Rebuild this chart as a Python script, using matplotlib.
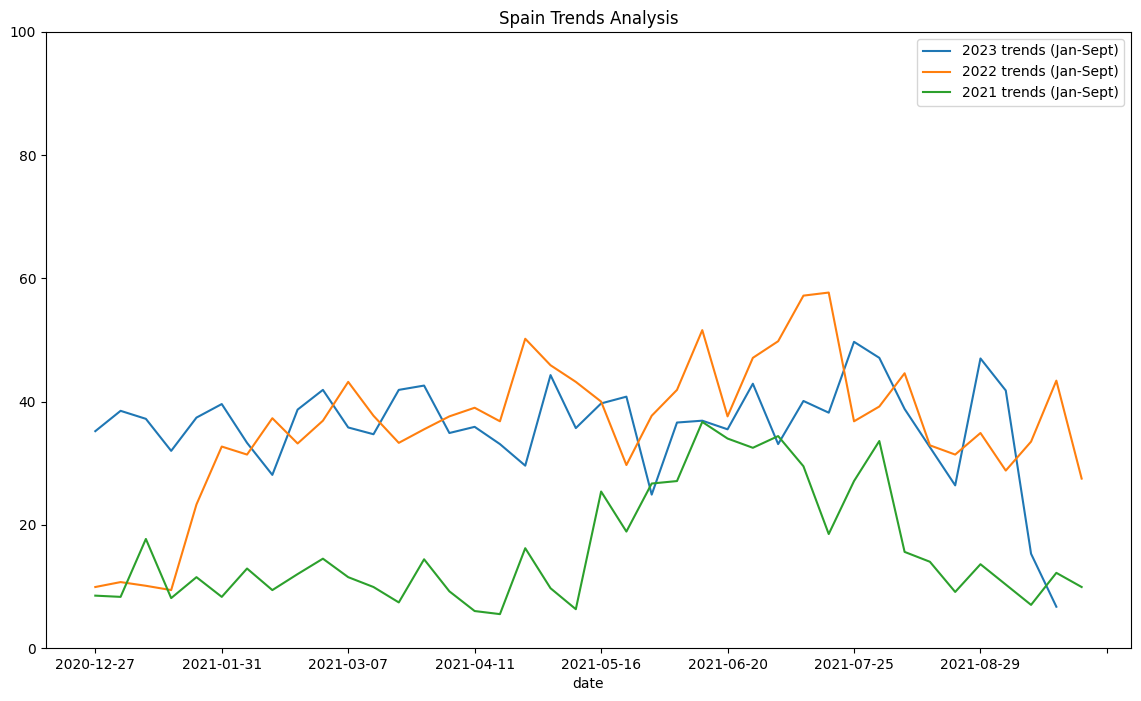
import matplotlib
matplotlib.use('Agg')
import matplotlib.pyplot as plt
import pandas as pd

# weekly dates, Jan-Sept
dates = pd.date_range('2020-12-27', periods=40, freq='7D').strftime('%Y-%m-%d').tolist()

trends_2023 = [35.2, 38.5, 37.2, 32.0, 37.4, 39.6, 33.3, 28.1, 38.7, 41.9,
               35.8, 34.7, 41.9, 42.6, 34.9, 35.9, 33.1, 29.6, 44.3, 35.7,
               39.7, 40.8, 24.9, 36.6, 36.9, 35.5, 42.9, 33.1, 40.1, 38.2,
               49.7, 47.1, 38.8, 32.6, 26.4, 47.0, 41.8, 15.3, 6.7, None]
trends_2022 = [9.9, 10.7, 10.1, 9.4, 23.3, 32.7, 31.4, 37.3, 33.2, 36.9,
               43.2, 37.7, 33.3, 35.5, 37.6, 39.0, 36.8, 50.2, 45.9, 43.2,
               40.0, 29.7, 37.7, 41.9, 51.6, 37.6, 47.1, 49.8, 57.2, 57.7,
               36.8, 39.2, 44.6, 32.9, 31.4, 34.9, 28.8, 33.5, 43.4, 27.5]
trends_2021 = [8.5, 8.3, 17.7, 8.1, 11.5, 8.3, 12.9, 9.4, 12.0, 14.5,
               11.5, 9.9, 7.4, 14.4, 9.2, 6.0, 5.5, 16.2, 9.7, 6.3,
               25.4, 18.9, 26.7, 27.1, 36.7, 34.0, 32.5, 34.4, 29.5, 18.5,
               27.1, 33.6, 15.6, 14.0, 9.1, 13.6, 10.3, 7.0, 12.2, 9.9]

df = pd.DataFrame({'2023 trends (Jan-Sept)': trends_2023,
                   '2022 trends (Jan-Sept)': trends_2022,
                   '2021 trends (Jan-Sept)': trends_2021}, index=dates, dtype=float)
df.index.name = 'date'

fig = plt.figure(figsize=(11.41, 7.01), dpi=100)
ax = fig.add_axes([0.0403, 0.0756, 0.9509, 0.8788])
x = range(len(dates))
for col in df.columns:
    ax.plot(x, df[col].values, label=col)

ticks = list(range(0, len(dates) + 1, 5))
ax.set_xticks(ticks)
ax.set_xticklabels([dates[t] if t < len(dates) else '' for t in ticks])
ax.set_ylim(0, 100)
ax.set_xlabel('date')
ax.set_title('Spain Trends Analysis')
ax.legend(loc='upper right')

plt.savefig('out.png', dpi=100)
